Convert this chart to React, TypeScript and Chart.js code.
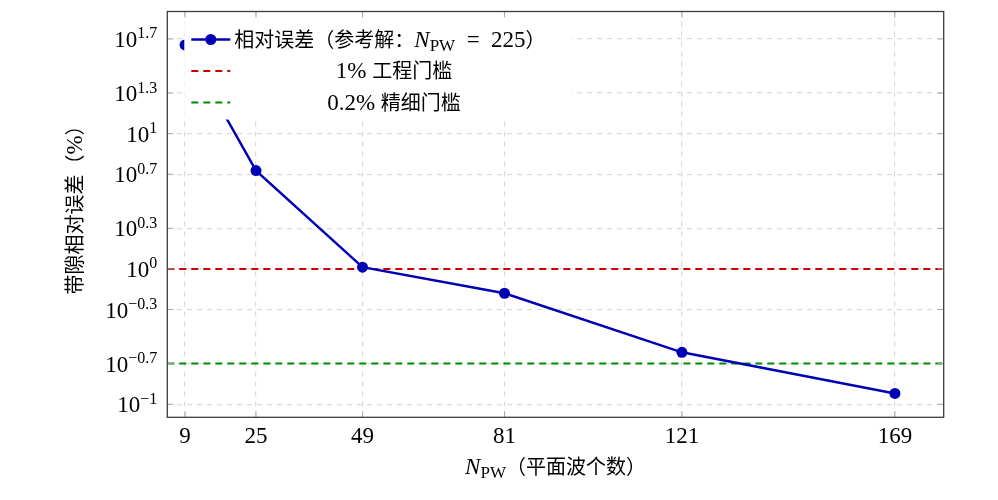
import { useEffect, useRef } from 'react';
import { Chart, registerables } from 'chart.js';

Chart.register(...registerables);

// data
const nPW = [9, 25, 49, 81, 121, 169];
const relError = [45.3, 5.33, 1.03, 0.661, 0.242, 0.12];
const engThreshold = 1;
const fineThreshold = 0.2;

const xLimits = [5, 180];
const yLimits = [0.08, 80];
const xTicks = [9, 25, 49, 81, 121, 169];
const yTickExponents = ['-1', '-0.7', '-0.3', '0', '0.3', '0.7', '1', '1.3', '1.7'];

const engLabel = '1% 工程门槛';
const fineLabel = '0.2% 精细门槛';
const yTitle = '带隙相对误差（%）';
const xTitleTail = '（平面波个数）';

const BLUE = '#0000b4';
const RED = '#cc0000';
const GREEN = '#008c00';
const FAMILY = '"Liberation Serif", "Noto Sans CJK SC", serif';
const LATIN = 23;
const CJK = 20;
const SCRIPT = 16;

type Run = { text: string; size: number; italic?: boolean; dy?: number };

const isCjk = (ch: string) => /[\u3000-\u9fff\uff00-\uffef]/.test(ch);

// split text into runs so CJK glyphs and latin glyphs get their own sizes
function mixed(text: string): Run[] {
  const runs: Run[] = [];
  for (const ch of text) {
    const size = isCjk(ch) ? CJK : LATIN;
    const last = runs[runs.length - 1];
    if (last && last.size === size) last.text += ch;
    else runs.push({ text: ch, size });
  }
  return runs;
}

const setFont = (ctx: CanvasRenderingContext2D, r: Run) => {
  ctx.font = `${r.italic ? 'italic ' : ''}${r.size}px ${FAMILY}`;
};

function runsWidth(ctx: CanvasRenderingContext2D, runs: Run[]) {
  let w = 0;
  for (const r of runs) {
    setFont(ctx, r);
    w += ctx.measureText(r.text).width;
  }
  return w;
}

function drawRuns(ctx: CanvasRenderingContext2D, runs: Run[], x: number, y: number, align: 'left' | 'center' | 'right') {
  const w = runsWidth(ctx, runs);
  let cx = align === 'left' ? x : align === 'center' ? x - w / 2 : x - w;
  ctx.textAlign = 'left';
  ctx.textBaseline = 'alphabetic';
  for (const r of runs) {
    setFont(ctx, r);
    ctx.fillText(r.text, cx, y + (r.dy ?? 0));
    cx += ctx.measureText(r.text).width;
  }
}

const mainLabelRuns: Run[] = [
  ...mixed('相对误差（参考解：'),
  { text: 'N', size: LATIN, italic: true },
  { text: 'PW', size: 17, dy: 4 },
  ...mixed('\u2002=\u2002225'),
  ...mixed('）'),
];

const decorPlugin = {
  id: 'decor',
  afterDraw(chart: Chart) {
    const { ctx, chartArea: a } = chart;
    const xs = chart.scales.x;
    const ys = chart.scales.y;
    ctx.save();

    // inward tick marks on all four sides
    ctx.strokeStyle = '#a8a8a8';
    ctx.lineWidth = 1;
    ctx.setLineDash([]);
    ctx.beginPath();
    for (const v of xTicks) {
      const px = xs.getPixelForValue(v);
      ctx.moveTo(px, a.bottom); ctx.lineTo(px, a.bottom - 6);
      ctx.moveTo(px, a.top); ctx.lineTo(px, a.top + 6);
    }
    for (const e of yTickExponents) {
      const py = ys.getPixelForValue(Math.pow(10, parseFloat(e)));
      ctx.moveTo(a.left, py); ctx.lineTo(a.left + 6, py);
      ctx.moveTo(a.right, py); ctx.lineTo(a.right - 6, py);
    }
    ctx.stroke();

    // axis box
    ctx.strokeStyle = '#3c3c3c';
    ctx.lineWidth = 1.3;
    ctx.strokeRect(a.left, a.top, a.right - a.left, a.bottom - a.top);

    // legend
    const lx = a.left + 17;
    const ly = a.top + 8;
    ctx.fillStyle = '#ffffff';
    ctx.fillRect(lx, ly, 387, 100);
    const rowY = [ly + 20, ly + 51.5, ly + 83];
    const sx0 = lx + 7;
    const sx1 = lx + 46;
    ctx.lineWidth = 2.4;
    ctx.strokeStyle = BLUE;
    ctx.beginPath(); ctx.moveTo(sx0, rowY[0]); ctx.lineTo(sx1, rowY[0]); ctx.stroke();
    ctx.fillStyle = BLUE;
    ctx.beginPath(); ctx.arc((sx0 + sx1) / 2, rowY[0], 5.5, 0, Math.PI * 2); ctx.fill();
    ctx.lineWidth = 2;
    ctx.setLineDash([7, 5]);
    ctx.strokeStyle = RED;
    ctx.beginPath(); ctx.moveTo(sx0, rowY[1]); ctx.lineTo(sx1, rowY[1]); ctx.stroke();
    ctx.strokeStyle = GREEN;
    ctx.beginPath(); ctx.moveTo(sx0, rowY[2]); ctx.lineTo(sx1, rowY[2]); ctx.stroke();
    ctx.setLineDash([]);

    ctx.fillStyle = '#000000';
    const tx = lx + 50;
    const mainW = runsWidth(ctx, mainLabelRuns);
    const colMid = tx + mainW / 2 + 4;
    drawRuns(ctx, mainLabelRuns, tx, rowY[0] + 7, 'left');
    drawRuns(ctx, mixed(engLabel), colMid, rowY[1] + 7, 'center');
    drawRuns(ctx, mixed(fineLabel), colMid, rowY[2] + 7, 'center');

    // y tick labels as 10^e
    for (const e of yTickExponents) {
      const py = ys.getPixelForValue(Math.pow(10, parseFloat(e)));
      drawRuns(ctx, [
        { text: '10', size: LATIN },
        { text: e.replace('-', '\u2212'), size: SCRIPT, dy: -8.5 },
      ], a.left - 10, py + 8, 'right');
    }

    // x tick labels
    for (const v of xTicks) {
      drawRuns(ctx, [{ text: String(v), size: LATIN }], xs.getPixelForValue(v), a.bottom + 26, 'center');
    }

    // x title
    drawRuns(ctx, [
      { text: 'N', size: LATIN, italic: true },
      { text: 'PW', size: 17, dy: 4 },
      ...mixed(xTitleTail),
    ], (a.left + a.right) / 2, a.bottom + 57, 'center');

    // y title
    ctx.translate(75, 205);
    ctx.rotate(-Math.PI / 2);
    drawRuns(ctx, mixed(yTitle), 0, 7, 'center');

    ctx.restore();
  },
};

export default function App() {
  const canvasRef = useRef<HTMLCanvasElement>(null);
  const chartInstance = useRef<Chart | null>(null);

  useEffect(() => {
    document.body.style.margin = '0';
    if (!canvasRef.current) return;
    if (chartInstance.current) chartInstance.current.destroy();

    const gridOpts = { color: '#dadada', lineWidth: 1.2, drawTicks: false };
    const borderOpts = { display: false, dash: [5, 5] };

    chartInstance.current = new Chart(canvasRef.current, {
      type: 'line',
      data: {
        datasets: [
          {
            label: '相对误差（参考解：NPW = 225）',
            data: nPW.map((x, i) => ({ x, y: relError[i] })),
            borderColor: BLUE,
            backgroundColor: BLUE,
            borderWidth: 2.4,
            pointRadius: 5.5,
            pointBorderWidth: 0,
            pointBackgroundColor: BLUE,
            tension: 0,
          },
          {
            label: engLabel,
            data: xLimits.map((x) => ({ x, y: engThreshold })),
            borderColor: RED,
            borderWidth: 2,
            borderDash: [7, 5],
            pointRadius: 0,
          },
          {
            label: fineLabel,
            data: xLimits.map((x) => ({ x, y: fineThreshold })),
            borderColor: GREEN,
            borderWidth: 2,
            borderDash: [7, 5],
            pointRadius: 0,
          },
        ],
      },
      options: {
        animation: false,
        responsive: true,
        maintainAspectRatio: false,
        layout: { padding: { top: 11.5, right: 54.3, left: 0, bottom: 0 } },
        plugins: {
          legend: { display: false },
          tooltip: { enabled: false },
        },
        scales: {
          x: {
            type: 'linear',
            min: xLimits[0],
            max: xLimits[1],
            afterBuildTicks: (s: any) => {
              s.ticks = xTicks.map((value) => ({ value }));
            },
            afterFit: (s: any) => {
              s.height = 82.7;
            },
            ticks: { display: false },
            grid: gridOpts,
            border: borderOpts,
          },
          y: {
            type: 'logarithmic',
            min: yLimits[0],
            max: yLimits[1],
            afterBuildTicks: (s: any) => {
              s.ticks = yTickExponents.map((e) => ({ value: Math.pow(10, parseFloat(e)) }));
            },
            afterFit: (s: any) => {
              s.width = 167.3;
            },
            ticks: { display: false },
            grid: gridOpts,
            border: borderOpts,
          },
        },
      },
      plugins: [decorPlugin],
    } as any);

    return () => {
      if (chartInstance.current) {
        chartInstance.current.destroy();
        chartInstance.current = null;
      }
    };
  }, []);

  return (
    <div style={{ position: 'relative', width: '998px', height: '500px' }}>
      <canvas ref={canvasRef} />
    </div>
  );
}
